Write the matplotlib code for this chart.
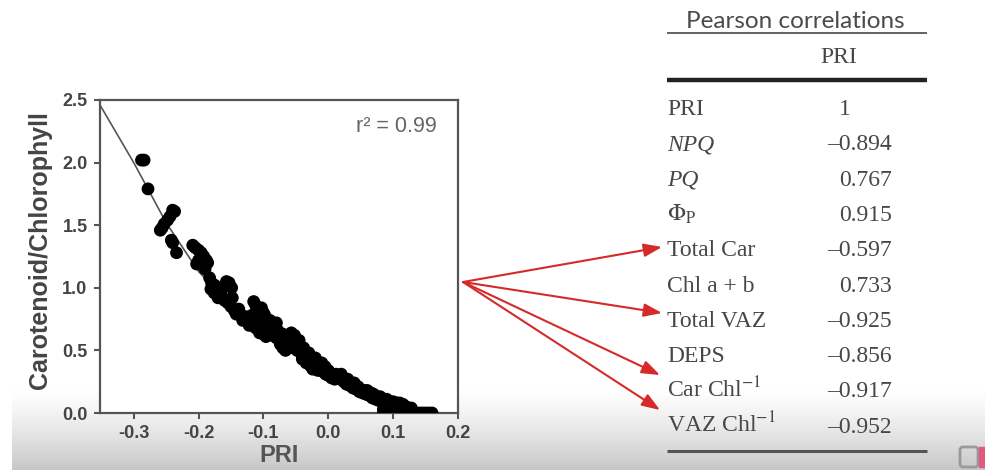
import numpy as np
import matplotlib
matplotlib.use("Agg")
import matplotlib.pyplot as plt
from matplotlib.patches import Rectangle, FancyBboxPatch

plt.rcParams['axes.unicode_minus'] = False
plt.rcParams['mathtext.fontset'] = 'stix'

# ---------------- data ----------------
pri = [-0.288, -0.284, -0.278,
       -0.240, -0.237, -0.244, -0.248, -0.253, -0.256, -0.259, -0.242, -0.240, -0.234,
       -0.209, -0.205, -0.200, -0.196, -0.192, -0.188, -0.186, -0.200, -0.203, -0.197, -0.192,
       -0.183, -0.180, -0.178, -0.175, -0.172, -0.168, -0.164, -0.160, -0.157, -0.153, -0.149,
       -0.155, -0.150, -0.145, -0.140, -0.135, -0.130, -0.125, -0.120,
       -0.115, -0.112, -0.108, -0.103, -0.100, -0.110, -0.106, -0.104, -0.100, -0.096, -0.092,
       -0.088, -0.085, -0.082, -0.078, -0.075, -0.072, -0.068, -0.065, -0.062, -0.060, -0.057,
       -0.055, -0.052, -0.050, -0.048, -0.045, -0.042, -0.040, -0.036, -0.033, -0.030, -0.026,
       -0.022, -0.019, -0.015, -0.012, -0.008, -0.004, 0.000, 0.005, 0.010, 0.015, 0.019, 0.024,
       0.028, 0.033, 0.038, 0.043, 0.048, 0.053, 0.058, 0.063, 0.068, 0.073, 0.078, 0.083,
       0.088, 0.093, 0.098, 0.103, 0.108, 0.113, 0.118, 0.122, 0.126,
       0.085, 0.090, 0.095, 0.100, 0.105, 0.110, 0.115, 0.120, 0.125, 0.130, 0.135, 0.140,
       0.145, 0.150, 0.155, 0.160, 0.085, 0.095, 0.105,
       -0.070, -0.080, -0.090, -0.095, -0.098, -0.102, -0.045, -0.038, -0.030, -0.020, -0.010,
       -0.005, 0.000, 0.020, 0.030, 0.040, 0.060, 0.070, 0.080, 0.090, 0.100, 0.110, 0.115,
       -0.118, -0.128, -0.138, -0.148, -0.165, -0.170, -0.190, -0.194,
       -0.070, -0.066, -0.058, -0.052, -0.046, -0.040, -0.034, -0.028, -0.024, -0.016,
       -0.086, -0.080, -0.074, -0.112, -0.106, -0.122, -0.132, -0.142, -0.176, -0.181,
       0.004, 0.012, 0.026, 0.036, 0.046, 0.056, 0.066, 0.076, 0.086, 0.096, 0.106, 0.116,
       0.112, 0.120, 0.128, 0.090, 0.100]
car_chl = [2.02, 2.02, 1.79,
           1.62, 1.61, 1.57, 1.54, 1.51, 1.48, 1.46, 1.38, 1.36, 1.28,
           1.34, 1.32, 1.30, 1.28, 1.25, 1.22, 1.20, 1.22, 1.19, 1.20, 1.18,
           1.08, 1.04, 0.99, 1.02, 0.97, 0.95, 0.93, 0.90, 1.05, 1.04, 1.00,
           0.88, 0.85, 0.82, 0.80, 0.78, 0.75, 0.73, 0.72,
           0.89, 0.86, 0.82, 0.84, 0.80, 0.76, 0.70, 0.66, 0.63, 0.61, 0.64,
           0.67, 0.70, 0.68, 0.66, 0.62, 0.58, 0.56, 0.60, 0.55, 0.52, 0.64,
           0.60, 0.56, 0.52, 0.50, 0.54, 0.48, 0.46, 0.47, 0.44, 0.42, 0.43,
           0.40, 0.38, 0.36, 0.35, 0.33, 0.31, 0.30, 0.28, 0.27, 0.29, 0.27, 0.25,
           0.23, 0.22, 0.20, 0.19, 0.17, 0.16, 0.15, 0.14, 0.12, 0.11, 0.10, 0.09,
           0.08, 0.07, 0.06, 0.06, 0.06, 0.05, 0.04, 0.03, 0.02,
           0.00, 0.01, 0.00, 0.01, 0.00, 0.01, 0.00, 0.00, 0.00, 0.00, 0.00, 0.00,
           0.00, 0.00, 0.00, 0.00, 0.03, 0.04, 0.03,
           0.63, 0.72, 0.74, 0.70, 0.78, 0.74, 0.58, 0.52, 0.48, 0.44, 0.40,
           0.37, 0.34, 0.31, 0.27, 0.24, 0.18, 0.15, 0.13, 0.11, 0.09, 0.08, 0.07,
           0.78, 0.77, 0.83, 0.92, 0.99, 0.92, 1.15, 1.26,
           0.52, 0.50, 0.58, 0.62, 0.50, 0.43, 0.40, 0.38, 0.35, 0.34,
           0.62, 0.60, 0.55, 0.68, 0.64, 0.70, 0.74, 0.79, 0.96, 0.99,
           0.30, 0.31, 0.26, 0.24, 0.21, 0.18, 0.16, 0.13, 0.11, 0.09, 0.08, 0.06,
           0.03, 0.05, 0.04, 0.05, 0.05]

fit_x = [-0.352, -0.300, -0.250, -0.200, -0.150, -0.100, -0.050, 0.000, 0.050, 0.100, 0.150]
fit_y = [2.46, 2.00, 1.52, 1.13, 0.86, 0.64, 0.46, 0.31, 0.18, 0.07, 0.00]

xticks = [-0.3, -0.2, -0.1, 0.0, 0.1, 0.2]
xtick_labels = ["-0.3", "-0.2", "-0.1", "0.0", "0.1", "0.2"]
yticks = [0.0, 0.5, 1.0, 1.5, 2.0, 2.5]
ytick_labels = ["0.0", "0.5", "1.0", "1.5", "2.0", "2.5"]

row_labels = ["PRI", "NPQ", "PQ", r"$\Phi_{\mathrm{P}}$", "Total Car", "Chl a + b",
              "Total VAZ", "DEPS", r"Car Chl$^{-1}$", r"VAZ Chl$^{-1}$"]
row_italic = [False, True, True, False, False, False, False, False, False, False]
row_values = ["1", "\u20130.894", "0.767", "0.915", "\u20130.597", "0.733",
              "\u20130.925", "\u20130.856", "\u20130.917", "\u20130.952"]

# ---------------- figure ----------------
W, H = 985, 470
fig = plt.figure(figsize=(W / 100, H / 100), dpi=100)
fig.patch.set_facecolor("white")

bg = fig.add_axes([0, 0, 1, 1], zorder=0)
grad = np.linspace(0, 1, 100).reshape(-1, 1) ** 1.3
col = 1 - grad * (1 - 0.78)
img = np.dstack([col, col, col])
bg.imshow(img, extent=[12, W, H, 388], aspect="auto", zorder=0)
bg.set_xlim(0, W)
bg.set_ylim(H, 0)
bg.axis("off")

ax = fig.add_axes([100 / W, 1 - 413 / H, 358 / W, 313 / H], zorder=2)
ax.plot(fit_x, fit_y, color="#555555", lw=1.2, zorder=2)
ax.scatter(pri, car_chl, s=85, color="black", edgecolors="none", zorder=3)
ax.set_xlim(-0.352, 0.2)
ax.set_ylim(0, 2.5)
ax.set_xticks(xticks)
ax.set_xticklabels(xtick_labels)
ax.set_yticks(yticks)
ax.set_yticklabels(ytick_labels)
for sp in ax.spines.values():
    sp.set_color("#555555")
    sp.set_linewidth(1.6)
ax.tick_params(direction="out", length=4, width=1.5, color="#555555",
               labelsize=13, labelcolor="#444444", pad=5)
for lab in ax.get_xticklabels() + ax.get_yticklabels():
    lab.set_fontweight("bold")
    lab.set_family("Liberation Sans")
ax.set_ylabel("Carotenoid/Chlorophyll", fontsize=18, fontweight="bold",
              color="#444444", family="Liberation Sans")
ax.yaxis.set_label_coords(-0.133, 0.52)
ax.set_xlabel("PRI", fontsize=17, fontweight="bold", color="#555555",
              family="Liberation Sans")
ax.xaxis.set_label_coords(0.5, -0.100)
ax.text(437, 127, "r\u00b2 = 0.99", transform=bg.transData, fontsize=15.5,
        color="#666666", ha="right", va="center", family="Liberation Sans", zorder=5)

ov = fig.add_axes([0, 0, 1, 1], zorder=4)
ov.set_xlim(0, W)
ov.set_ylim(H, 0)
ov.axis("off")
ov.patch.set_alpha(0)

tc = "#474747"
ov.text(795, 28, "Pearson correlations", fontsize=17.5, family="Lato", color="#4a4a4a",
        ha="center", va="baseline")
ov.plot([667, 927], [33, 33], color="#555555", lw=1.3, solid_capstyle="butt")
ov.text(839, 63, "PRI", fontsize=17, family="Liberation Serif", color=tc,
        ha="center", va="baseline")
ov.plot([667, 927], [80, 80], color="#222222", lw=3.2, solid_capstyle="butt")
ov.plot([667, 927], [451, 451], color="#555555", lw=2.2, solid_capstyle="butt")

base0, step = 115, 35.3
for i, (lab, it, val) in enumerate(zip(row_labels, row_italic, row_values)):
    yb = base0 + step * i
    ov.text(667, yb, lab, fontsize=17, family="Liberation Serif", color=tc,
            style="italic" if it else "normal", ha="left", va="baseline")
    if val == "1":
        ov.text(845, yb, val, fontsize=17, family="Liberation Serif", color=tc,
                ha="center", va="baseline")
    else:
        ov.text(892, yb, val, fontsize=17, family="Liberation Serif", color=tc,
                ha="right", va="baseline")

origin = (463, 282)
targets = [(662, 247), (662, 313), (660, 375), (660, 410)]
for t in targets:
    ov.annotate("", xy=t, xytext=origin,
                arrowprops=dict(arrowstyle="-|>,head_length=1.1,head_width=0.4",
                                color="#d42a2a", lw=1.5, shrinkA=0, shrinkB=0))

ov.add_patch(FancyBboxPatch((960, 447), 18, 20, boxstyle="round,pad=0,rounding_size=3",
                            fill=False, ec="#9a9a9a", lw=2))
ov.add_patch(Rectangle((979, 447), 6, 20, color="#e05a80"))

fig.savefig("out.png", dpi=100)
